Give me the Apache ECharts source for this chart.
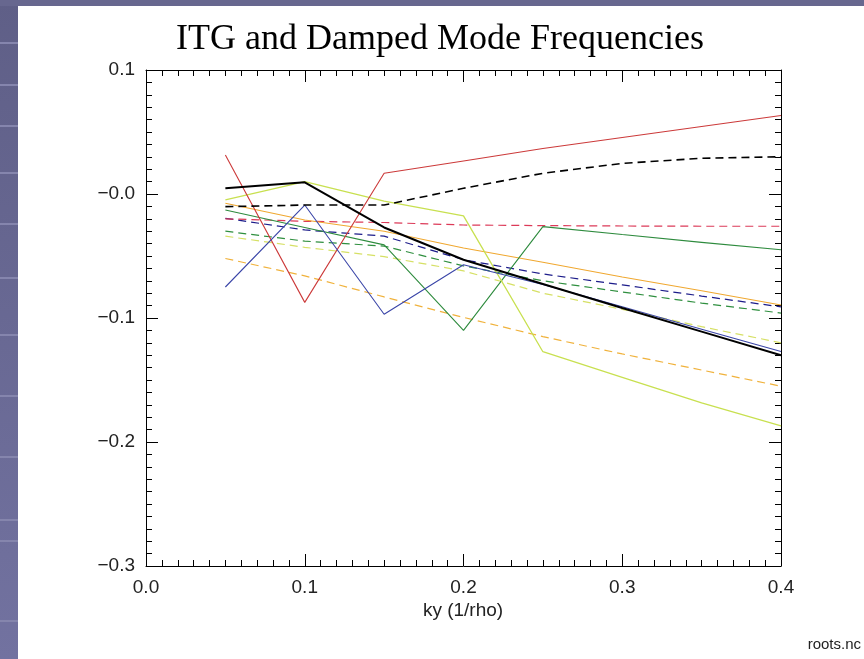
<!DOCTYPE html>
<html>
<head>
<meta charset="utf-8">
<script src="https://cdn.jsdelivr.net/npm/echarts@6/dist/echarts.min.js"></script>
<style>
  html, body { margin: 0; padding: 0; background: #ffffff; }
  #chart { width: 864px; height: 659px; }
</style>
</head>
<body>
<div id="chart"></div>
<script>
// ky values (1/rho) at which the roots were computed
const kyValues = [0.05, 0.10, 0.15, 0.20, 0.25, 0.30, 0.35, 0.40];

// Real frequencies of the ITG and damped modes, one array per root
const redSolid     = [0.0315, -0.0874, 0.0167, 0.0266, 0.0367, 0.0455, 0.0544, 0.0633];
const blackDashed  = [-0.0102, -0.0089, -0.0089, 0.0046, 0.0167, 0.0247, 0.0288, 0.0300];
const blackSolid   = [0.0046, 0.0094, -0.0270, -0.0530, -0.0726, -0.0920, -0.1110, -0.1300];
const blueSolid    = [-0.0750, -0.0089, -0.0970, -0.0570, -0.0730, -0.0910, -0.1090, -0.1270];
const yellowSolid  = [-0.0048, 0.0099, -0.0057, -0.0177, -0.1272, -0.1478, -0.1685, -0.1869];
const orangeSolid  = [-0.0075, -0.0210, -0.0300, -0.0435, -0.0550, -0.0670, -0.0780, -0.0895];
const greenSolid   = [-0.0129, -0.0270, -0.0410, -0.1100, -0.0263, -0.0327, -0.0390, -0.0450];
const redDashed    = [-0.0200, -0.0220, -0.0230, -0.0250, -0.0255, -0.0258, -0.0260, -0.0260];
const navyDashed   = [-0.0196, -0.0290, -0.0340, -0.0530, -0.0645, -0.0733, -0.0823, -0.0910];
const greenDashed  = [-0.0300, -0.0380, -0.0420, -0.0580, -0.0700, -0.0790, -0.0880, -0.0960];
const yellowDashed = [-0.0340, -0.0430, -0.0505, -0.0620, -0.0800, -0.0930, -0.1070, -0.1200];
const orangeDashed = [-0.0520, -0.0660, -0.0830, -0.0995, -0.1150, -0.1290, -0.1420, -0.1550];

// Axis ranges and tick spacing
const xMin = 0.0, xMax = 0.4, xStep = 0.1;
const yMin = -0.3, yMax = 0.1, yStep = 0.1;

const chart = echarts.init(document.getElementById('chart'), null, { renderer: 'canvas' });

const labelFont = { fontFamily: 'Liberation Sans', fontSize: 19, color: '#222' };
const DASH = [8, 5];

function line(values, color, width, dashed, z) {
  return {
    type: 'line',
    data: kyValues.map((k, i) => [k, values[i]]),
    showSymbol: false,
    symbol: 'none',
    silent: true,
    z: z || 2,
    lineStyle: { color: color, width: width, type: dashed ? DASH : 'solid' }
  };
}

function fmtY(v) {
  const r = Math.round(v * 10) / 10;
  if (Math.abs(r) < 1e-9) return '\u22120.0';
  return (r < 0 ? '\u2212' : '') + Math.abs(r).toFixed(1);
}

// Box-style axes: ticks on all four sides, pointing into the plot
const tickCommon = {
  axisLine: { show: true, onZero: false, lineStyle: { color: '#000', width: 1 } },
  axisTick: { show: true, inside: true, length: 12, lineStyle: { color: '#000', width: 1 } },
  minorTick: { show: true, splitNumber: 10, length: 6, lineStyle: { color: '#000', width: 1 } },
  splitLine: { show: false },
  minorSplitLine: { show: false }
};

// Slide background bands
const bandYs = [42, 84, 125, 172, 223, 277, 334, 395, 456, 519, 540, 620];
const graphics = [
  {
    type: 'rect', silent: true, z: 0,
    shape: { x: 0, y: 0, width: 18, height: 659 },
    style: {
      fill: new echarts.graphic.LinearGradient(0, 0, 0, 1, [
        { offset: 0, color: '#5f5f87' },
        { offset: 1, color: '#7272a0' }
      ])
    }
  },
  {
    type: 'rect', silent: true, z: 0,
    shape: { x: 0, y: 0, width: 864, height: 6 },
    style: { fill: '#67678f' }
  }
].concat(bandYs.map(y => ({
  type: 'rect', silent: true, z: 1,
  shape: { x: 0, y: y, width: 18, height: 2 },
  style: { fill: '#8585ad' }
}))).concat([
  {
    type: 'text', silent: true,
    x: 440, y: 40,
    style: {
      text: 'ITG and Damped Mode Frequencies',
      fontFamily: 'Liberation Serif', fontSize: 36, fill: '#000',
      align: 'center', verticalAlign: 'middle',
      textAlign: 'center', textVerticalAlign: 'middle'
    }
  },
  {
    type: 'text', silent: true,
    x: 463, y: 611,
    style: {
      text: 'ky (1/rho)',
      fontFamily: 'Liberation Sans', fontSize: 19, fill: '#222',
      align: 'center', verticalAlign: 'middle',
      textAlign: 'center', textVerticalAlign: 'middle'
    }
  },
  {
    type: 'text', silent: true,
    x: 861, y: 645,
    style: {
      text: 'roots.nc',
      fontFamily: 'Liberation Sans', fontSize: 15, fill: '#222',
      align: 'right', verticalAlign: 'middle',
      textAlign: 'right', textVerticalAlign: 'middle'
    }
  }
]);

const option = {
  animation: false,
  backgroundColor: '#ffffff',
  grid: { left: 146, right: 83, top: 70, bottom: 93, containLabel: false },
  xAxis: [
    Object.assign({
      type: 'value', position: 'bottom', min: xMin, max: xMax, interval: xStep,
      axisLabel: Object.assign({ margin: 12, formatter: v => v.toFixed(1) }, labelFont)
    }, tickCommon),
    Object.assign({
      type: 'value', position: 'top', min: xMin, max: xMax, interval: xStep,
      axisLabel: { show: false }
    }, tickCommon)
  ],
  yAxis: [
    Object.assign({
      type: 'value', position: 'left', min: yMin, max: yMax, interval: yStep,
      axisLabel: Object.assign({ margin: 11, formatter: fmtY }, labelFont)
    }, tickCommon),
    Object.assign({
      type: 'value', position: 'right', min: yMin, max: yMax, interval: yStep,
      axisLabel: { show: false }
    }, tickCommon)
  ],
  graphic: graphics,
  series: [
    line(orangeDashed, '#f0b23c', 1.2, true),
    line(yellowDashed, '#d6e065', 1.2, true),
    line(greenDashed, '#2f8f3f', 1.2, true),
    line(navyDashed, '#1c1c8a', 1.2, true),
    line(redDashed, '#dc3a58', 1.2, true),
    line(orangeSolid, '#f0a830', 1.1, false),
    line(greenSolid, '#2e8b3e', 1.1, false),
    line(yellowSolid, '#c8e050', 1.3, false),
    line(redSolid, '#cc3a3a', 1.1, false),
    line(blueSolid, '#3b46a8', 1.1, false),
    line(blackDashed, '#000000', 1.6, true, 3),
    line(blackSolid, '#000000', 2, false, 3)
  ]
};

chart.setOption(option);
</script>
</body>
</html>
